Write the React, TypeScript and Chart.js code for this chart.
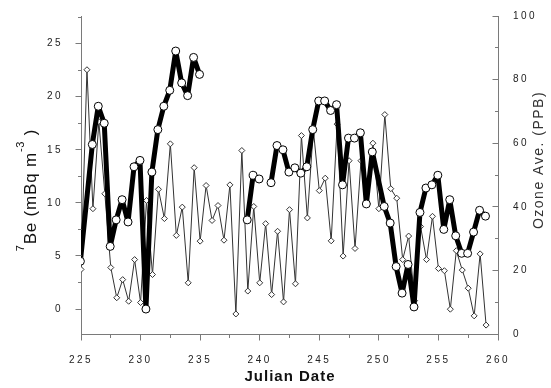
import React, { useEffect, useRef } from 'react';
import { Chart, registerables } from 'chart.js';

Chart.register(...registerables);

// ---- data ----
const beDays = [
  224.95, 225.95, 226.45, 226.95, 227.45, 227.95, 228.45, 228.95, 229.45, 229.95,
  230.45, 230.95, 231.45, 231.95, 232.45, 232.95, 233.45, 233.95, 234.45, 234.95,
  236.5,
  238.95, 239.45, 239.95,
  240.45,
  240.95, 241.45, 241.95, 242.45, 242.95, 243.45, 243.95, 244.45, 244.95, 245.45,
  245.95, 246.45, 246.95, 247.45, 247.95, 248.45, 248.95, 249.45, 250.45, 250.95,
  251.45, 251.95, 252.45, 252.95, 253.45, 253.95, 254.45, 254.95, 255.45, 255.95,
  256.45, 256.95, 257.45, 257.95, 258.45, 258.95,
];
const beValues = [
  4.5, 15.5, 19.1, 17.5, 5.9, 8.4, 10.3, 8.2, 13.4, 14.0,
  0.0, 12.9, 16.9, 19.1, 20.6, 24.3, 21.3, 20.1, 23.7, 22.1,
  null,
  8.4, 12.6, 12.25,
  null,
  11.9, 15.4, 15.0, 12.9, 13.3, 12.8, 13.4, 16.9, 19.6, 19.6,
  18.7, 19.25, 11.7, 16.1, 16.1, 16.6, 9.9, 14.8, 9.66, 8.1,
  4.0, 1.5, 4.2, 0.2, 9.1, 11.4, 11.7, 12.6, 7.5, 10.3,
  6.9, 5.25, 5.25, 7.25, 9.3, 8.75,
];

const ozoneDays = [
  225, 225.5, 226, 226.5, 227, 227.5, 228, 228.5, 229, 229.5,
  230, 230.5, 231, 231.5, 232, 232.5, 233, 233.5, 234, 234.5,
  235, 235.5, 236, 236.5, 237, 237.5, 238, 238.5, 239, 239.5,
  240, 240.5, 241, 241.5, 242, 242.5, 243, 243.5, 244, 244.5,
  245, 245.5, 246, 246.5, 247, 247.5, 248, 248.5, 249, 249.5,
  250, 250.5, 251, 251.5, 252, 252.5, 253, 253.5, 254, 254.5,
  255, 255.5, 256, 256.5, 257, 257.5, 258, 258.5, 259,
];
const ozoneValues = [
  20.3, 83.1, 39.4, 66.8, 44.1, 20.9, 11.4, 17.1, 10.3, 23.4,
  9.9, 42.0, 18.7, 45.5, 36.3, 59.8, 31.0, 39.9, 16.1, 52.3,
  29.2, 46.7, 35.7, 40.4, 29.5, 46.9, 6.3, 57.7, 13.5, 40.1,
  16.1, 34.7, 12.4, 32.3, 10.1, 39.1, 15.8, 62.4, 36.5, 64.3,
  45.1, 49.0, 29.3, 66.0, 24.5, 54.5, 26.9, 54.5, 41.0, 60.0,
  39.4, 69.0, 45.7, 42.7, 23.4, 30.8, 10.5, 33.8, 23.4, 37.0,
  20.6, 19.9, 7.8, 26.2, 20.1, 14.4, 5.7, 25.2, 2.8,
];

const xMinorTicks = [227.5, 232.5, 237.5, 242.5, 247.5, 252.5, 257.5];
const leftMinorTicks = [2.5, 7.5, 12.5, 17.5, 22.5, 27.5];
const rightMinorTicks = [10, 30, 50, 70, 90];

const X_TITLE = 'Julian Date';
const Y_TITLE_PARTS: [string, boolean][] = [
  ['7', true],
  ['Be (mBq m', false],
  ['-3', true],
  [' )', false],
];
const Y2_TITLE = 'Ozone Ave. (PPB)';

const FAMILY = '"Liberation Sans", Arial, Helvetica, sans-serif';
const AXIS_COLOR = '#7a7a7a';
const TEXT_COLOR = '#222';

const decorPlugin = {
  id: 'decor',
  beforeDraw(chart: any) {
    chart.ctx.letterSpacing = '2.5px';
  },
  afterDraw(chart: any) {
    const ctx = chart.ctx as CanvasRenderingContext2D;
    const { left, right, top, bottom } = chart.chartArea;
    const xs = chart.scales.x;
    const ys = chart.scales.y;
    const y2s = chart.scales.y2;
    const al = (p: number) => Math.round(p - 0.5) + 0.5;
    ctx.save();
    ctx.strokeStyle = AXIS_COLOR;
    ctx.lineWidth = 1;
    const seg = (x1: number, y1: number, x2: number, y2: number) => {
      ctx.beginPath();
      ctx.moveTo(x1, y1);
      ctx.lineTo(x2, y2);
      ctx.stroke();
    };
    const bx = al(bottom);
    const lx = al(left);
    const rx = al(right);
    xs.ticks.forEach((t: any) => {
      const p = al(xs.getPixelForValue(t.value));
      seg(p, bx, p, bx + 6);
    });
    xMinorTicks.forEach((v) => {
      const p = al(xs.getPixelForValue(v));
      seg(p, bx, p, bx + 3.5);
    });
    ys.ticks.forEach((t: any) => {
      const p = al(ys.getPixelForValue(t.value));
      seg(lx - 6, p, lx, p);
    });
    leftMinorTicks.forEach((v) => {
      const p = al(ys.getPixelForValue(v));
      seg(lx - 3.5, p, lx, p);
    });
    y2s.ticks.forEach((t: any) => {
      const p = al(y2s.getPixelForValue(t.value));
      seg(rx - 6, p, rx, p);
    });
    rightMinorTicks.forEach((v) => {
      const p = al(y2s.getPixelForValue(v));
      seg(rx - 3.5, p, rx, p);
    });
    ctx.restore();

    // x title
    ctx.save();
    ctx.letterSpacing = '1px';
    ctx.font = `bold 15px ${FAMILY}`;
    ctx.fillStyle = '#111';
    ctx.textAlign = 'center';
    ctx.textBaseline = 'middle';
    ctx.fillText(X_TITLE, (left + right) / 2 + 0.5, 377);
    ctx.restore();

    // left y title (rotated, with superscripts)
    ctx.save();
    ctx.letterSpacing = '0.8px';
    ctx.fillStyle = '#111';
    ctx.textAlign = 'left';
    ctx.textBaseline = 'alphabetic';
    const bigFont = `17px ${FAMILY}`;
    const smallFont = `11px ${FAMILY}`;
    let total = 0;
    const widths = Y_TITLE_PARTS.map(([txt, sup]) => {
      ctx.font = sup ? smallFont : bigFont;
      const w = ctx.measureText(txt).width;
      total += w;
      return w;
    });
    ctx.translate(0, 190);
    ctx.rotate(-Math.PI / 2);
    let u = -total / 2;
    Y_TITLE_PARTS.forEach(([txt, sup], i) => {
      ctx.font = sup ? smallFont : bigFont;
      ctx.fillText(txt, u, sup ? 24 : 36);
      u += widths[i];
    });
    ctx.restore();

    // right y title
    ctx.save();
    ctx.letterSpacing = '1.5px';
    ctx.font = `14px ${FAMILY}`;
    ctx.fillStyle = '#333';
    ctx.textAlign = 'center';
    ctx.textBaseline = 'middle';
    ctx.translate(539, 160);
    ctx.rotate(-Math.PI / 2);
    ctx.fillText(Y2_TITLE, 0, 0);
    ctx.restore();
  },
};

export default function App() {
  const ref = useRef<HTMLCanvasElement>(null);
  useEffect(() => {
    document.body.style.margin = '0';
    const canvas = ref.current!;
    const beData = beDays.map((d, i) => ({ x: d, y: beValues[i] }));
    const ozData = ozoneDays.map((d, i) => ({ x: d, y: ozoneValues[i] }));
    const tickFont = { size: 10, family: FAMILY };
    const chart = new Chart(canvas, {
      type: 'line',
      data: {
        datasets: [
          {
            label: '7Be',
            data: beData as any,
            yAxisID: 'y',
            borderColor: '#000',
            borderWidth: 5,
            borderJoinStyle: 'bevel',
            pointRadius: 4,
            pointBackgroundColor: '#fff',
            pointBorderColor: '#000',
            pointBorderWidth: 1,
            spanGaps: false,
            tension: 0,
          },
          {
            label: 'Ozone',
            data: ozData as any,
            yAxisID: 'y2',
            borderColor: '#333',
            borderWidth: 1,
            pointStyle: 'rectRot',
            pointRadius: 3,
            pointBackgroundColor: '#fff',
            pointBorderColor: '#333',
            pointBorderWidth: 1,
            tension: 0,
          },
        ],
      },
      options: {
        responsive: false,
        animation: false,
        devicePixelRatio: 1,
        layout: { padding: { top: 15, left: 0, right: 0, bottom: 0 } },
        plugins: { legend: { display: false }, tooltip: { enabled: false } },
        scales: {
          x: {
            type: 'linear',
            position: 'bottom',
            min: 225,
            max: 260,
            grid: { display: false },
            border: { display: true, color: AXIS_COLOR, width: 1 },
            ticks: {
              stepSize: 5,
              font: tickFont,
              color: TEXT_COLOR,
              padding: 12,
              maxRotation: 0,
              autoSkip: false,
              includeBounds: false,
            },
            afterFit: (s: any) => {
              s.height = 54;
            },
          },
          y: {
            type: 'linear',
            position: 'left',
            min: -2.35,
            max: 27.6,
            grid: { display: false },
            border: { display: true, color: AXIS_COLOR, width: 1 },
            ticks: {
              stepSize: 5,
              font: tickFont,
              color: TEXT_COLOR,
              padding: 10,
              includeBounds: false,
            },
            afterFit: (s: any) => {
              s.width = 81;
            },
          },
          y2: {
            type: 'linear',
            position: 'right',
            min: 0,
            max: 100,
            grid: { display: false },
            border: { display: true, color: AXIS_COLOR, width: 1 },
            ticks: {
              stepSize: 20,
              font: tickFont,
              color: TEXT_COLOR,
              padding: 7,
            },
            afterFit: (s: any) => {
              s.width = 53;
            },
          },
        },
      },
      plugins: [decorPlugin],
    } as any);
    return () => chart.destroy();
  }, []);
  return (
    <div style={{ width: 551, height: 388, background: '#fff' }}>
      <canvas ref={ref} width={551} height={388} style={{ display: 'block' }} />
    </div>
  );
}
